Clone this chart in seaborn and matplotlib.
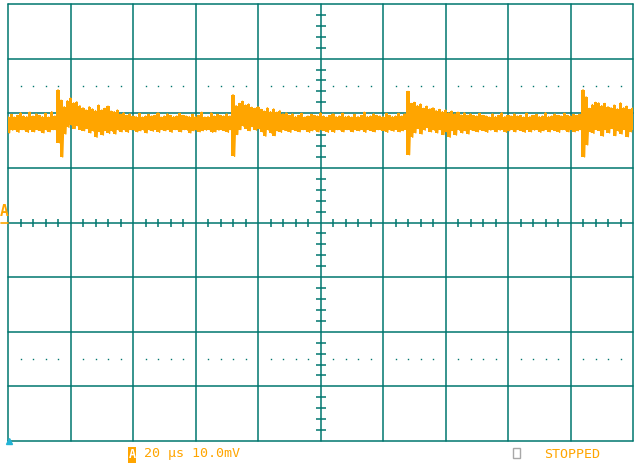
import matplotlib
matplotlib.use('Agg')
import matplotlib.pyplot as plt
from matplotlib.patches import Rectangle
import seaborn as sns
import numpy as np

# Scope settings: 10 div x 20 us, 8 div x 10 mV
time_per_div = 20.0   # us
volt_per_div = 10.0   # mV
n_xdiv, n_ydiv = 10, 8

# Sample times (us), one per microsecond across the screen
t_us = np.arange(0, 201)

# Upper / lower envelope of the noisy trace (mV)
upper_mv = [
    19.4, 19.8, 19.3, 19.6, 20.1, 19.5, 19.4, 20.2, 19.5, 19.9,
    19.6, 19.4, 20.0, 19.3, 20.3, 19.5, 24.3, 22.4, 21.2, 22.3,
    22.8, 21.9, 22.1, 21.4, 21.0, 20.6, 21.2, 20.8, 20.5, 21.5,
    20.6, 20.9, 21.3, 20.4, 20.3, 20.6, 19.8, 20.1, 19.6, 19.9,
    19.5, 19.4, 20.0, 19.3, 19.5, 19.8, 19.5, 19.6, 20.1, 19.3,
    19.5, 19.9, 19.6, 19.4, 19.5, 20.0, 19.6, 19.5, 19.4, 19.8,
    19.4, 19.6, 20.2, 19.3, 19.4, 20.1, 19.5, 19.8, 19.6, 19.5,
    19.9, 19.5, 23.4, 21.4, 21.8, 22.2, 21.5, 21.7, 21.1, 20.9,
    21.2, 20.7, 20.4, 21.0, 20.3, 20.8, 20.2, 20.5, 19.9, 20.1,
    19.6, 19.9, 19.4, 19.6, 20.0, 19.3, 19.5, 19.8, 19.6, 19.5,
    20.1, 19.5, 19.3, 19.6, 19.9, 19.4, 19.5, 20.0, 19.4, 19.5,
    19.3, 19.8, 19.4, 19.6, 20.2, 19.4, 19.5, 19.9, 19.6, 19.5,
    19.4, 20.0, 19.6, 19.4, 19.5, 20.0, 19.5, 19.9, 24.0, 21.8,
    22.0, 21.4, 21.7, 20.9, 21.3, 20.8, 21.0, 20.5, 20.7, 20.3,
    20.6, 20.1, 20.4, 19.9, 20.2, 19.7, 20.1, 19.6, 19.9, 19.6,
    19.5, 20.0, 19.6, 19.5, 19.3, 19.9, 19.4, 19.6, 20.1, 19.4,
    19.6, 19.5, 19.9, 19.5, 19.6, 19.3, 20.0, 19.4, 19.6, 19.8,
    19.4, 19.5, 20.1, 19.4, 19.5, 19.9, 19.6, 19.5, 20.0, 19.6,
    19.5, 19.8, 19.6, 19.8, 24.3, 23.0, 20.9, 21.6, 22.0, 21.9,
    21.4, 21.8, 21.2, 21.0, 21.5, 20.8, 21.9, 21.0, 21.3, 20.7,
    21.0,
]
lower_mv = [
    16.4, 16.9, 17.0, 16.5, 17.0, 16.9, 16.5, 17.0, 16.6, 17.0,
    16.8, 16.4, 16.9, 16.6, 17.0, 16.9, 14.6, 12.0, 16.2, 17.4,
    17.8, 17.2, 17.6, 17.0, 16.8, 17.2, 16.4, 16.7, 15.6, 16.6,
    16.0, 16.8, 16.3, 16.7, 16.2, 16.9, 16.6, 16.9, 16.5, 17.0,
    16.9, 16.6, 16.8, 16.9, 16.4, 16.9, 16.7, 17.0, 16.5, 17.0,
    16.8, 17.0, 16.5, 17.0, 16.9, 16.6, 17.0, 16.9, 16.4, 16.8,
    16.9, 16.6, 16.8, 16.9, 17.0, 16.5, 16.6, 16.9, 17.0, 16.8,
    16.5, 16.9, 12.1, 16.1, 17.0, 17.6, 17.2, 16.8, 17.5, 16.9,
    17.2, 16.6, 15.8, 16.9, 16.3, 15.9, 16.7, 16.5, 16.9, 16.7,
    16.5, 17.0, 16.8, 16.6, 17.0, 16.9, 16.5, 16.8, 16.9, 16.6,
    16.9, 16.8, 16.5, 16.9, 16.5, 17.0, 16.9, 16.6, 17.0, 16.9,
    16.6, 16.9, 16.8, 17.0, 16.5, 17.0, 16.8, 16.6, 17.0, 16.9,
    16.8, 16.5, 16.9, 16.7, 17.0, 16.6, 16.8, 17.0, 12.4, 15.6,
    16.4, 17.2, 16.2, 16.9, 17.3, 16.6, 16.9, 16.4, 17.0, 16.1,
    16.6, 15.6, 16.8, 16.0, 16.9, 16.4, 16.8, 16.2, 16.9, 16.8,
    16.6, 16.9, 16.8, 16.5, 16.9, 17.0, 16.6, 16.9, 17.0, 16.5,
    16.8, 17.0, 16.6, 17.0, 16.8, 16.5, 17.0, 16.6, 16.9, 17.0,
    16.5, 16.8, 17.0, 16.6, 17.0, 16.8, 16.5, 17.0, 16.9, 16.6,
    17.0, 16.6, 16.8, 16.9, 12.0, 14.2, 16.6, 16.3, 17.0, 16.8,
    15.8, 16.9, 16.4, 17.2, 15.9, 16.7, 16.2, 17.0, 15.7, 16.6,
    16.9,
]

status_text = 'STOPPED'
scale_text = '20 \u00b5s 10.0mV'
channel_label = 'A'

grid_col = '#00766F'
trace_col = '#FFA500'

sns.set_style('white')
plt.rcParams['font.family'] = ['DejaVu Sans Mono']

W, H = 640, 463
fig = plt.figure(figsize=(W / 100, H / 100), dpi=100)
ax = fig.add_axes([8 / W, (H - 441) / H, 625 / W, 437 / H])

x_max = n_xdiv * time_per_div
y_half = n_ydiv / 2 * volt_per_div
ax.set_xlim(0, x_max)
ax.set_ylim(-y_half, y_half)
ax.set_axis_off()

# graticule
for k in range(n_xdiv + 1):
    ax.axvline(k * time_per_div, color=grid_col, lw=1.1, zorder=1, clip_on=False)
for k in range(n_ydiv + 1):
    ax.axhline(-y_half + k * volt_per_div, color=grid_col, lw=1.1, zorder=1, clip_on=False)

sub_x = [i * time_per_div / 5 for i in range(n_xdiv * 5 + 1) if i % 5 != 0]
sub_y = [-y_half + i * volt_per_div / 5 for i in range(n_ydiv * 5 + 1) if i % 5 != 0]
x_mid = x_max / 2
ax.plot(sub_x, [0] * len(sub_x), ls='none', marker='|', ms=5.5, mew=1.1, color=grid_col, zorder=1)
ax.plot([x_mid] * len(sub_y), sub_y, ls='none', marker='_', ms=7, mew=1.1, color=grid_col, zorder=1)
# dotted rows at 1.5 div from top / bottom
for yd in (y_half - 1.5 * volt_per_div, -y_half + 1.5 * volt_per_div):
    ax.plot(sub_x, [yd] * len(sub_x), ls='none', marker='s', ms=1.0, mew=0, color=grid_col, zorder=1)

# trace: band between the envelopes plus a zig-zag for the fast spikes
ax.fill_between(t_us, lower_mv, upper_mv, step='mid', color=trace_col, lw=0, zorder=2)
trace_t = np.column_stack([t_us, t_us + 0.5]).ravel()[:-1]
trace_v = np.column_stack([upper_mv, lower_mv]).ravel()[:-1]
sns.lineplot(x=trace_t, y=trace_v, sort=False, estimator=None, color=trace_col,
             lw=1.0, ax=ax, zorder=3, legend=False)

# trigger marker at bottom-left
ax.plot([0.3], [-y_half], marker='^', ms=5, color='#22B4D6', clip_on=False, zorder=4)

# channel A reference level marker on the left
fig.text(4.6 / W, 1 - 212 / H, channel_label, color=trace_col, fontsize=10.5,
         fontweight='bold', ha='center', va='center')
fig.add_artist(plt.Line2D([1 / W, 8 / W], [1 - 223.3 / H] * 2, color=trace_col, lw=1.2))

# bottom status line
fig.add_artist(Rectangle((128 / W, 1 - 463 / H), 8 / W, 16 / H, color=trace_col, lw=0))
fig.text(132 / W, 1 - 454.5 / H, channel_label, color='white', fontsize=8.5,
         fontweight='bold', ha='center', va='center')
fig.text(144 / W, 1 - 454 / H, scale_text, color=trace_col, fontsize=9.6,
         ha='left', va='center')
fig.add_artist(Rectangle((512.5 / W, 1 - 457.5 / H), 7 / W, 10 / H, fill=False,
                         edgecolor='#A8A8A8', lw=1.0))
fig.text(544 / W, 1 - 454 / H, status_text, color=trace_col, fontsize=9.6,
         ha='left', va='center')

fig.savefig('out.png', dpi=100, facecolor='white')
